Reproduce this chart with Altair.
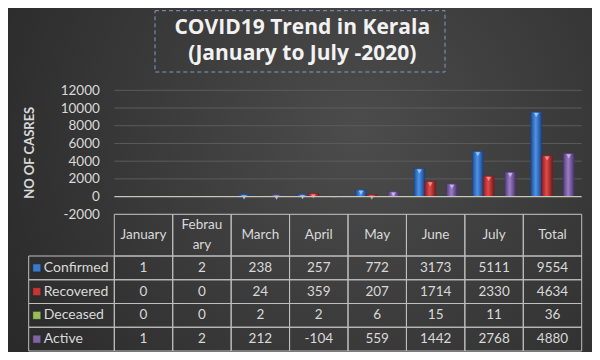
import altair as alt
import pandas as pd

# ---------------- data ----------------
categories = ["January", "Febrauary", "March", "April", "May", "June", "July", "Total"]
header_labels = ["January", "Febrau\nary", "March", "April", "May", "June", "July", "Total"]
series = ["Confirmed", "Recovered", "Deceased", "Active"]
confirmed = [1, 2, 238, 257, 772, 3173, 5111, 9554]
recovered = [0, 0, 24, 359, 207, 1714, 2330, 4634]
deceased = [0, 0, 2, 2, 6, 15, 11, 36]
active = [1, 2, 212, -104, 559, 1442, 2768, 4880]
y_ticks = [-2000, 0, 2000, 4000, 6000, 8000, 10000, 12000]
title_lines = ["COVID19 Trend in Kerala", "(January to July -2020)"]
y_title = "NO OF CASRES"

values = {"Confirmed": confirmed, "Recovered": recovered, "Deceased": deceased, "Active": active}
rows = []
for s in series:
    for c, v in zip(categories, values[s]):
        rows.append({"cat": c, "series": s, "value": v, "label": str(v)})
df = pd.DataFrame(rows)
header_df = pd.DataFrame({"cat": categories, "label": header_labels})
header_df["multi"] = header_df["label"].str.contains("\n")
series_df = pd.DataFrame({"series": series})
grid_df = pd.DataFrame({"value": [t for t in y_ticks if t != 0]})
zero_df = pd.DataFrame({"value": [0]})

# ---------------- style ----------------
FONT = "Lato"
TXT = "#d9d9d9"
BORDER = "#bfbfbf"
W, H = 467.4, 124
HEAD_TOP, HEAD_BOT, TABLE_BOT = 124, 165.7, 260.7
HEAD_MID = (HEAD_TOP + HEAD_BOT) / 2
LINE_H = 19.5
LABEL_LEFT = -85.6

base_colors = ["#3a78cf", "#c93434", "#9bbb59", "#8064a2"]
grads = {
    "Confirmed": ["#1f4e98", "#4d92e8", "#1b4285"],
    "Recovered": ["#8e2020", "#e04a4a", "#7a1a1a"],
    "Deceased": ["#6a8732", "#b8d672", "#5a7428"],
    "Active": ["#553e7c", "#9a7dc6", "#48346a"],
}
caps = {"Confirmed": "#9cc8f7", "Recovered": "#f29090", "Deceased": "#dcefa0", "Active": "#c9b3ea"}

x_enc = alt.X("cat:N", scale=alt.Scale(domain=categories, paddingInner=0, paddingOuter=0), axis=None)
xoff_enc = alt.XOffset("series:N", scale=alt.Scale(domain=series, paddingInner=0, paddingOuter=0.7))
y_axis = alt.Axis(
    values=y_ticks, grid=False, domain=False, ticks=False, labelPadding=15,
    labelFont=FONT, labelFontSize=13.5, labelColor=TXT, zindex=1,
    labelExpr="(datum.value < 0 ? '-' : '') + abs(datum.value)",
    title=y_title, titleFont=FONT, titleFontSize=13, titleFontWeight="bold",
    titleColor=TXT, titlePadding=24,
)
y_enc = alt.Y("value:Q", scale=alt.Scale(domain=[-2000, 12000], nice=False, zero=False), axis=y_axis)
row_enc = alt.Y("series:N", scale=alt.Scale(domain=series, range=[HEAD_BOT, TABLE_BOT], paddingInner=0, paddingOuter=0), axis=None)

# background
bg = alt.Chart(zero_df).mark_rect(
    color={"gradient": "radial", "x1": 0.6, "y1": 0.42, "r1": 0, "x2": 0.6, "y2": 0.42, "r2": 0.75,
           "stops": [{"offset": 0, "color": "#4c4c4c"}, {"offset": 1, "color": "#272727"}]}
).encode(x=alt.value(-106.3), x2=alt.value(477.7), y=alt.value(-82.3), y2=alt.value(261.7))

# bar chart part
grid = alt.Chart(grid_df).mark_rule(color="#5c5c5c", strokeWidth=1).encode(y=y_enc)
bar_layers = []
for s in series:
    g = grads[s]
    bar_layers.append(
        alt.Chart(df).transform_filter(alt.datum.series == s).mark_bar(
            color={"gradient": "linear", "x1": 0, "x2": 1, "y1": 0, "y2": 0,
                   "stops": [{"offset": 0, "color": g[0]}, {"offset": 0.45, "color": g[1]}, {"offset": 1, "color": g[2]}]},
            stroke=g[2], strokeWidth=0.5,
        ).encode(x=x_enc, xOffset=xoff_enc, y=y_enc, y2=alt.datum(0))
    )
cap_layers = []
for s in series:
    cap_layers.append(
        alt.Chart(df).transform_filter((alt.datum.series == s) & (alt.datum.value >= 100)).mark_point(
            shape="triangle-down", filled=True, color=caps[s], size=22, opacity=0.95, yOffset=3
        ).encode(x=x_enc, xOffset=xoff_enc, y=y_enc)
    )
baseline = alt.Chart(zero_df).mark_rule(color="#c4c8b4", strokeWidth=1.2).encode(y=y_enc)
bars_part = alt.layer(grid, *bar_layers, *cap_layers, baseline)

# table part
cells = alt.Chart(df).mark_rect(fillOpacity=0, stroke=BORDER, strokeWidth=1).encode(x=x_enc, y=row_enc)
head_cells = alt.Chart(header_df).mark_rect(fillOpacity=0, stroke=BORDER, strokeWidth=1).encode(
    x=x_enc, y=alt.value(HEAD_TOP), y2=alt.value(HEAD_BOT))
label_cells = alt.Chart(series_df).mark_rect(fillOpacity=0, stroke=BORDER, strokeWidth=1).encode(
    x=alt.value(LABEL_LEFT), x2=alt.value(0), y=row_enc)
cell_text = alt.Chart(df).mark_text(font=FONT, fontSize=13.5, color=TXT).encode(
    x=x_enc, y=row_enc, text="label:N")
head_text1 = alt.Chart(header_df).transform_filter("!datum.multi").mark_text(
    font=FONT, fontSize=13.5, color=TXT).encode(
    x=x_enc, y=alt.value(HEAD_MID), text="label:N")
head_text2 = alt.Chart(header_df).transform_filter("datum.multi").mark_text(
    font=FONT, fontSize=13.5, color=TXT, lineBreak="\n", lineHeight=LINE_H).encode(
    x=x_enc, y=alt.value(HEAD_MID - LINE_H / 2), text="label:N")
keys = alt.Chart(series_df).mark_square(size=64, opacity=1, stroke="#222222", strokeWidth=0.5).encode(
    x=alt.value(-77.5), y=row_enc,
    color=alt.Color("series:N", scale=alt.Scale(domain=series, range=base_colors), legend=None))
row_text = alt.Chart(series_df).mark_text(font=FONT, fontSize=14, color=TXT, align="left").encode(
    x=alt.value(-70.5), y=row_enc, text="series:N")
table_part = alt.layer(cells, head_cells, label_cells, cell_text, head_text1, head_text2, keys, row_text)

# title
TFONT = "Open Sans"
title_box = alt.Chart(zero_df).mark_rect(fillOpacity=0, stroke="#7f9cc4", strokeWidth=1, strokeDash=[4, 3]).encode(
    x=alt.value(40.7), x2=alt.value(330.7), y=alt.value(-79.6), y2=alt.value(-18.3))
t1 = alt.Chart(zero_df).mark_text(font=TFONT, fontSize=21, fontWeight="bold", color="#f2f2f2").encode(
    x=alt.value(188), y=alt.value(-62.5), text=alt.value(title_lines[0]))
t2 = alt.Chart(zero_df).mark_text(font=TFONT, fontSize=21, fontWeight="bold", color="#f2f2f2").encode(
    x=alt.value(188), y=alt.value(-36), text=alt.value(title_lines[1]))

chart = alt.layer(bg, bars_part, table_part, title_box, t1, t2).resolve_scale(
    y="independent"
).properties(
    width=W, height=H,
    padding={"left": 106.3, "top": 82.3, "right": 10.3, "bottom": 137.7},
    autosize=alt.AutoSizeParams(type="none"),
    background="#2e2e2e",
).configure_view(stroke=None)

chart.save("out.html", embed_options={"renderer": "svg", "actions": False})
